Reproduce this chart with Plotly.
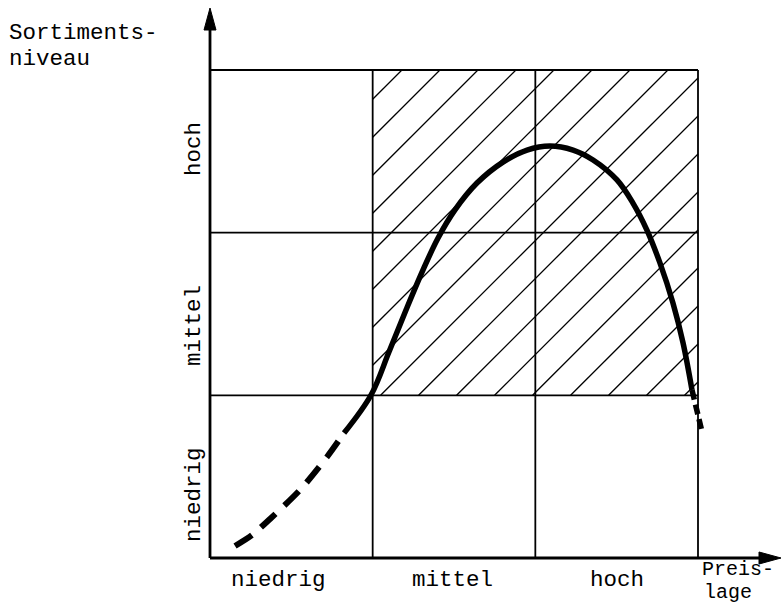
import plotly.graph_objects as go

# ---- data (grid units: 0..3 on both axes) ----
x_categories = ["niedrig", "mittel", "hoch"]
y_categories = ["niedrig", "mittel", "hoch"]

# dashed lower part of the curve
curve_dash_x = [0.154, 0.258, 0.369, 0.553, 0.719, 0.824]
curve_dash_y = [0.074, 0.141, 0.240, 0.418, 0.621, 0.768]
# solid main part
curve_x = [0.824, 0.990, 1.100, 1.205, 1.309, 1.402, 1.506, 1.641, 1.801, 1.949, 2.090,
           2.232, 2.355, 2.502, 2.600, 2.686, 2.766, 2.846, 2.908, 2.963]
curve_y = [0.768, 1.002, 1.266, 1.525, 1.770, 1.967, 2.140, 2.305, 2.434, 2.508, 2.533,
           2.508, 2.447, 2.324, 2.182, 2.016, 1.814, 1.568, 1.322, 1.033]
# dashed tail
tail_x = [2.963, 2.988, 3.006, 3.025]
tail_y = [1.033, 0.941, 0.861, 0.775]

# ---- layout geometry (positions in screen pixels) ----
W, H = 783, 603
OFF = 0              # page body margin removed via post_script
u = 162.667          # pixels per grid unit
ox, oy = 210, 558    # screen pixel of grid origin


def X(sx):
    return (sx - ox) / u


def Y(sy):
    return (oy - sy) / u


xr = [X(OFF), X(OFF + W)]
yr = [Y(OFF + H), Y(OFF)]

FONT = "Liberation Mono, Courier New, monospace"
FS = 22.5
fig = go.Figure()

# hatch lines in region x in [1,3], y in [1,3]: lines y = x + c
hx, hy = [], []
step = 0.2336
c = 1.82
while c > -2.0:
    xa = max(1.0, 1.0 - c)
    xb = min(3.0, 3.0 - c)
    if xb > xa + 0.02:
        hx += [xa, xb, None]
        hy += [xa + c, xb + c, None]
    c -= step
fig.add_trace(go.Scatter(x=hx, y=hy, mode="lines",
                         line=dict(color="black", width=1.3),
                         hoverinfo="skip", showlegend=False))

# grid lines
gx, gy = [], []
for k in (1, 2, 3):
    gx += [k, k, None]
    gy += [0, 3, None]
    gx += [0, 3, None]
    gy += [k, k, None]
fig.add_trace(go.Scatter(x=gx, y=gy, mode="lines",
                         line=dict(color="black", width=1.8),
                         hoverinfo="skip", showlegend=False))

# axes
ytip = Y(8)
xtip = X(781)
fig.add_trace(go.Scatter(x=[0, 0, None, 0, xtip - 0.1], y=[0, ytip - 0.1, None, 0, 0],
                         mode="lines", line=dict(color="black", width=2.8),
                         hoverinfo="skip", showlegend=False))
ah = 22 / u
aw = 6 / u
fig.add_shape(type="path",
              path=f"M {-aw} {ytip-ah} L 0 {ytip} L {aw} {ytip-ah} Z",
              fillcolor="black", line=dict(color="black", width=1))
fig.add_shape(type="path",
              path=f"M {xtip-ah} {aw} L {xtip} 0 L {xtip-ah} {-aw} Z",
              fillcolor="black", line=dict(color="black", width=1))

# curve
fig.add_trace(go.Scatter(x=curve_dash_x, y=curve_dash_y, mode="lines",
                         line=dict(color="black", width=6, dash="20px,12px",
                                   shape="spline", smoothing=0.8),
                         hoverinfo="skip", showlegend=False))
fig.add_trace(go.Scatter(x=curve_x, y=curve_y, mode="lines",
                         line=dict(color="black", width=5.5, shape="spline",
                                   smoothing=1.0),
                         hoverinfo="skip", showlegend=False))
fig.add_trace(go.Scatter(x=tail_x, y=tail_y, mode="lines",
                         line=dict(color="black", width=5.5, dash="10px,5px"),
                         hoverinfo="skip", showlegend=False))

# category labels
xlab_pos = [X(278), X(452), X(617)]
for lab, xp in zip(x_categories, xlab_pos):
    fig.add_annotation(x=xp, y=Y(580), text=lab, showarrow=False,
                       font=dict(family=FONT, size=FS, color="black"),
                       xanchor="center", yanchor="middle")
ylab_pos = [Y(495), Y(326), Y(149)]
for lab, yp in zip(y_categories, ylab_pos):
    fig.add_annotation(x=X(194), y=yp, text=lab, showarrow=False,
                       textangle=-90,
                       font=dict(family=FONT, size=FS, color="black"),
                       xanchor="center", yanchor="middle")

# axis titles (each line separately for tight line spacing)
for txt, sx, sy, fs in [("Sortiments-", 7, 32.5, FS), ("niveau", 7, 58.5, FS),
                        ("Preis-", 700, 568.5, 20), ("lage", 702, 591.5, 20)]:
    fig.add_annotation(x=X(sx), y=Y(sy), text=txt, height=20,
                       showarrow=False, xanchor="left", yanchor="middle",
                       font=dict(family=FONT, size=fs, color="black"))

fig.update_layout(
    width=W, height=H,
    margin=dict(l=0, r=0, t=0, b=0),
    paper_bgcolor="white", plot_bgcolor="white",
    xaxis=dict(range=xr, visible=False, fixedrange=True),
    yaxis=dict(range=yr, visible=False, fixedrange=True),
    showlegend=False,
)

fig.write_html("out.html",
               config={"displayModeBar": False, "staticPlot": True},
               post_script="document.body.style.margin='0';"
                           "document.body.style.overflow='hidden';")
